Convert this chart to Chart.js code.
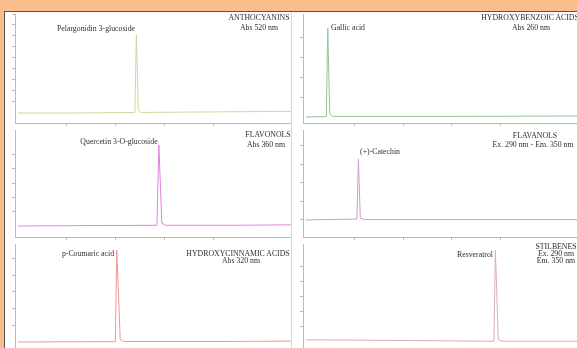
<!DOCTYPE html>
<html>
<head>
<meta charset="utf-8">
<script src="https://cdn.jsdelivr.net/npm/chart.js@4/dist/chart.umd.min.js"></script>
<style>
  html, body { margin: 0; padding: 0; }
  body { width: 577px; height: 348px; overflow: hidden; position: relative; background: #fbbd8a; font-family: "Liberation Serif", "DejaVu Serif", serif; }
  #frame { position: absolute; left: 4px; top: 11px; width: 573px; height: 337px; background: #fff; border-top: 1px solid #555; border-left: 1px solid #555; }
  .panel { position: absolute; width: 286px; height: 114px; }
  .panel.right { border-left: 1px solid #d8d8d8; box-sizing: border-box; }
  .panel canvas { display: block; }
  .txt { position: absolute; font-size: 7.8px; line-height: 8px; color: #2e2e2e; white-space: nowrap; text-align: center; }
</style>
</head>
<body>
<div id="frame"></div>

<script>
// retention time (min) and absorbance/fluorescence per chromatogram
const anthoTime = [0, 6, 11.95, 12.1, 12.3, 12.6, 20, 27.9];
const anthoAbs = [0, 0, 0.05, 7.1, 0.25, 0.05, 0.1, 0.15];

const benzoicTime = [0, 2.1, 2.25, 2.45, 2.8, 15, 27.9];
const benzoicAbs = [0, 0.02, 4.45, 0.15, 0.03, 0.03, 0.05];

const flavonolTime = [0, 8, 14.2, 14.4, 14.7, 15.1, 22, 27.9];
const flavonolAbs = [0, 0.03, 0.05, 5.66, 0.2, 0.05, 0.05, 0.08];

const flavanolTime = [0, 5.25, 5.4, 5.6, 6, 15, 27.9];
const flavanolAbs = [0, 0.05, 3.3, 0.1, 0.02, 0.02, 0.02];

const cinnamicTime = [0, 9.95, 10.1, 10.45, 10.8, 20, 27.9];
const cinnamicAbs = [0, 0.02, 5.5, 0.15, 0.03, 0.03, 0.05];

const stilbeneTime = [0, 10, 19.35, 19.5, 19.8, 20.2, 27.9];
const stilbeneAbs = [0.15, 0.1, 0.05, 6.1, 0.15, 0.05, 0.05];

const panels = [
  { left: 5, top: 12, side: "left", time: anthoTime, abs: anthoAbs, color: "#d2d69a", yMin: -0.91, yMax: 9, padTop: 2,
    texts: [
      { t: "Pelargonidin 3-glucoside", x: 96, y: 25 },
      { t: "ANTHOCYANINS", x: 259, y: 14 },
      { t: "Abs 520 nm", x: 259, y: 24 },
    ] },
  { left: 291, top: 12, side: "right", time: benzoicTime, abs: benzoicAbs, color: "#98c698", yMin: -0.3, yMax: 5.15, padTop: 2,
    texts: [
      { t: "Gallic acid", x: 348, y: 24 },
      { t: "HYDROXYBENZOIC ACIDS", x: 530, y: 14 },
      { t: "Abs 260 nm", x: 531, y: 24 },
    ] },
  { left: 5, top: 126, side: "left", time: flavonolTime, abs: flavonolAbs, color: "#e67ee6", yMin: -0.77, yMax: 6.71, padTop: 4,
    texts: [
      { t: "Quercetin 3-O-glucoside", x: 119, y: 138 },
      { t: "FLAVONOLS", x: 268, y: 131 },
      { t: "Abs 360 nm", x: 266, y: 141 },
    ] },
  { left: 291, top: 126, side: "right", time: flavanolTime, abs: flavanolAbs, color: "#d09ad0", yMin: -0.92, yMax: 4.86, padTop: 4,
    texts: [
      { t: "(+)-Catechin", x: 380, y: 148 },
      { t: "FLAVANOLS", x: 535, y: 132 },
      { t: "Ex. 290 nm - Em. 350 nm", x: 533, y: 141 },
    ] },
  { left: 5, top: 240, side: "left", time: cinnamicTime, abs: cinnamicAbs, color: "#f29696", yMin: -0.54, yMax: 5.87, padTop: 4,
    texts: [
      { t: "p-Coumaric acid", x: 88, y: 250 },
      { t: "HYDROXYCINNAMIC ACIDS", x: 238, y: 250 },
      { t: "Abs 320 nm", x: 241, y: 257 },
    ] },
  { left: 291, top: 240, side: "right", time: stilbeneTime, abs: stilbeneAbs, color: "#dcaabb", yMin: -0.6, yMax: 6.53, padTop: 4,
    texts: [
      { t: "Resveratrol", x: 475, y: 251 },
      { t: "STILBENES", x: 556, y: 243 },
      { t: "Ex. 290 nm", x: 556, y: 250 },
      { t: "Em. 350 nm", x: 556, y: 257 },
    ] },
];

const axisColor = "#b8b8b8";

function keepSteps(step) {
  return (scale) => {
    scale.ticks = scale.ticks.filter((t) => Math.abs(t.value / step - Math.round(t.value / step)) < 1e-6);
  };
}

panels.forEach((p) => {
  const box = document.createElement("div");
  box.className = "panel " + p.side;
  box.style.left = p.left + "px";
  box.style.top = p.top + "px";
  const cv = document.createElement("canvas");
  box.appendChild(cv);
  document.body.appendChild(box);

  p.texts.forEach((tx) => {
    const d = document.createElement("div");
    d.className = "txt";
    d.textContent = tx.t;
    d.style.left = tx.x + "px";
    d.style.top = tx.y + "px";
    d.style.transform = "translateX(-50%)";
    document.body.appendChild(d);
  });

  new Chart(cv, {
    type: "line",
    data: {
      datasets: [{
        data: p.time.map((t, i) => ({ x: t, y: p.abs[i] })),
        borderColor: p.color,
        borderWidth: 1,
        pointRadius: 0,
        tension: 0,
        fill: false,
      }],
    },
    options: {
      responsive: true,
      maintainAspectRatio: false,
      animation: false,
      events: [],
      layout: { padding: { left: p.side === "left" ? 6 : 7, top: p.padTop, right: 0, bottom: 0 } },
      plugins: { legend: { display: false }, tooltip: { enabled: false } },
      scales: {
        x: {
          type: "linear",
          min: -0.3,
          max: 27.9,
          ticks: { display: false, stepSize: 5 },
          afterBuildTicks: keepSteps(5),
          afterFit: (s) => { s.height = 3; },
          grid: { drawOnChartArea: false, drawTicks: true, tickLength: 3, color: axisColor },
          border: { color: axisColor },
        },
        y: {
          min: p.yMin,
          max: p.yMax,
          ticks: { display: false, stepSize: 1 },
          afterBuildTicks: keepSteps(1),
          afterFit: (s) => { s.width = 4; },
          grid: { drawOnChartArea: false, drawTicks: true, tickLength: 3, color: axisColor },
          border: { color: axisColor },
        },
      },
    },
  });
});
</script>
</body>
</html>
